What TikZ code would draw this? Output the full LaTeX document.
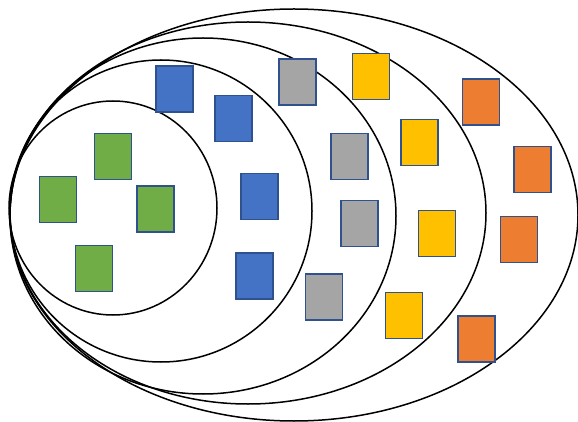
\documentclass[tikz,border=0pt]{standalone}
\usepackage{tikz}
\usetikzlibrary{positioning}
\definecolor{sqgreen}{HTML}{70AD47}
\definecolor{sqblue}{HTML}{4472C4}
\definecolor{sqgray}{HTML}{A5A5A5}
\definecolor{sqyellow}{HTML}{FFC000}
\definecolor{sqorange}{HTML}{ED7D31}
\definecolor{sqedge}{HTML}{2F528F}
\begin{document}
\begin{tikzpicture}[
    x=0.5pt, y=-0.5pt,
    ring/.style={draw=black, line width=0.75pt},
    sq/.style={draw=sqedge, line width=0.65pt, minimum width=18.5pt,
               minimum height=23pt, inner sep=0pt},
]
\useasboundingbox (0,0) rectangle (578,422);
% Nested ellipses (inner to outer)
\draw[ring] (113,208) ellipse [x radius=52pt,  y radius=53.5pt];
\draw[ring] (161,211) ellipse [x radius=75.5pt, y radius=75.5pt];
\draw[ring] (203,216) ellipse [x radius=96.5pt, y radius=89pt];
\draw[ring] (248,213) ellipse [x radius=119pt, y radius=95.5pt];
\draw[ring] (294,215) ellipse [x radius=142pt, y radius=103pt];
% Level 1: green
\node[sq, fill=sqgreen] (g1) at (113,156.5) {};
\node[sq, fill=sqgreen] (g2) at (58,199.5) {};
\node[sq, fill=sqgreen] (g3) at (155.5,209) {};
\node[sq, fill=sqgreen] (g4) at (94,268.5) {};
% Level 2: blue
\node[sq, fill=sqblue] (b1) at (174.5,89) {};
\node[sq, fill=sqblue] (b2) at (233.5,118.5) {};
\node[sq, fill=sqblue] (b3) at (259.5,196.5) {};
\node[sq, fill=sqblue] (b4) at (254.5,276) {};
% Level 3: gray
\node[sq, fill=sqgray] (a1) at (297.5,82) {};
\node[sq, fill=sqgray] (a2) at (349.5,156.5) {};
\node[sq, fill=sqgray] (a3) at (359.5,223.5) {};
\node[sq, fill=sqgray] (a4) at (324,297) {};
% Level 4: yellow
\node[sq, fill=sqyellow] (y1) at (371,76.5) {};
\node[sq, fill=sqyellow] (y2) at (419.5,142.5) {};
\node[sq, fill=sqyellow] (y3) at (437,233.5) {};
\node[sq, fill=sqyellow] (y4) at (404,315.5) {};
% Level 5: orange
\node[sq, fill=sqorange] (o1) at (481,102) {};
\node[sq, fill=sqorange] (o2) at (532.5,169.5) {};
\node[sq, fill=sqorange] (o3) at (519,239.5) {};
\node[sq, fill=sqorange] (o4) at (476.5,339) {};
\end{tikzpicture}
\end{document}
